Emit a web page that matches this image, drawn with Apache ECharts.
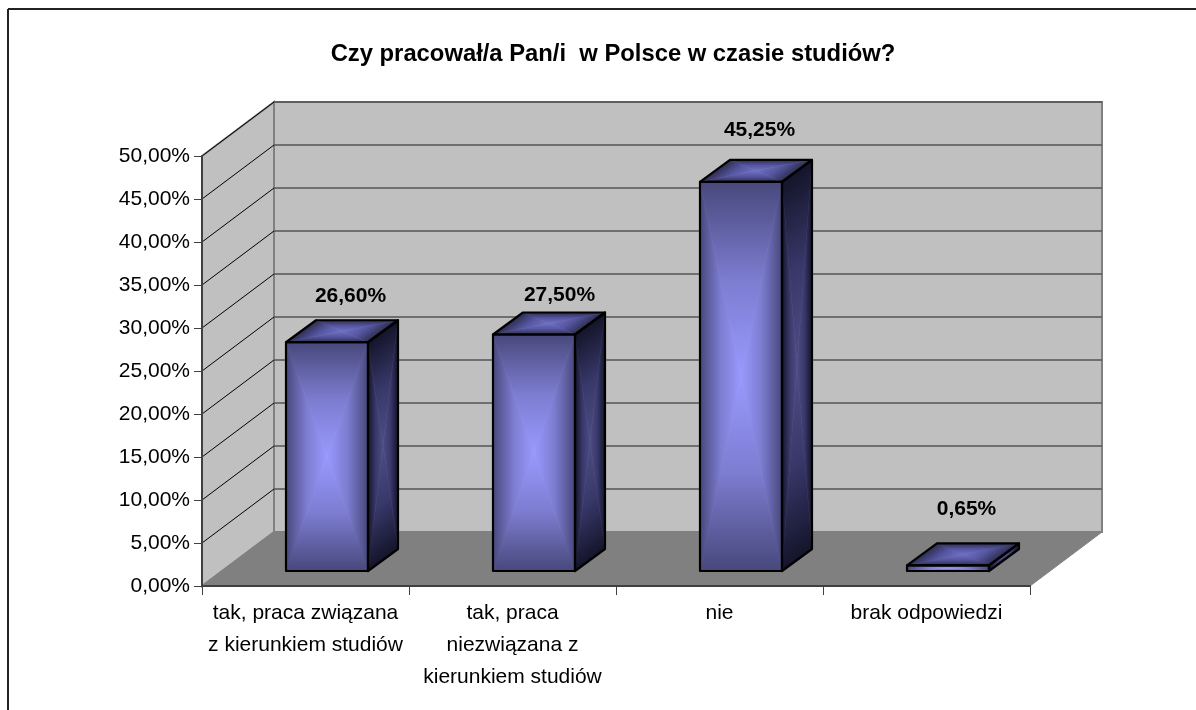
<!DOCTYPE html>
<html>
<head>
<meta charset="utf-8">
<title>Czy pracował/a Pan/i w Polsce w czasie studiów?</title>
<style>
  html, body { margin: 0; padding: 0; background: #fff; }
  #chart { width: 1196px; height: 710px; }
</style>
<script src="https://cdn.jsdelivr.net/npm/echarts@6/dist/echarts.min.js"></script>
</head>
<body>
<div id="chart"></div>
<script>
const categories = [
  "tak, praca związana\nz kierunkiem studiów",
  "tak, praca\nniezwiązana z\nkierunkiem studiów",
  "nie",
  "brak odpowiedzi",
];
const values = [26.6, 27.5, 45.25, 0.65];
const gridTicks = [0, 5, 10, 15, 20, 25, 30, 35, 40, 45, 50];
// hand placed labels in the original, so each one has its own shift [x, y]
const labelShift = [[45, -46], [47, -39], [40, -52], [40, -56]];

const WALL_DX = 72;
const WALL_DY = -54;
const BAR_W = 82;
const BAR_OFF_X = 21.5;
const BAR_OFF_Y = -15;
const SIDE_DX = 30;
const SIDE_DY = -22;

const fmt = (v) => v.toFixed(2).replace(".", ",") + "%";

function mid(a, b) {
  return [(a[0] + b[0]) / 2, (a[1] + b[1]) / 2];
}

// point on line a-b closest to c
function foot(a, b, c) {
  const dx = b[0] - a[0];
  const dy = b[1] - a[1];
  const t = ((c[0] - a[0]) * dx + (c[1] - a[1]) * dy) / (dx * dx + dy * dy);
  return [a[0] + t * dx, a[1] + t * dy];
}

// path gradient of a four sided face: one triangle per edge, all meeting in the middle
function face(p, stops) {
  const c = mid(p[0], p[2]);
  return p.map((a, i) => {
    const b = p[(i + 1) % 4];
    const f = foot(a, b, c);
    const g = new echarts.graphic.LinearGradient(f[0], f[1], c[0], c[1], [
      { offset: 0, color: stops[0] },
      { offset: 0.5, color: stops[1] },
      { offset: 1, color: stops[2] },
    ], true);
    return {
      type: "polygon",
      shape: { points: [a, b, c] },
      style: { fill: g, stroke: g, lineWidth: 0.6 },
    };
  });
}

function outline(p) {
  return {
    type: "polygon",
    shape: { points: p },
    style: { fill: "none", stroke: "#000", lineWidth: 2.2, lineJoin: "round" },
  };
}

function renderWalls(params, api) {
  const base = api.coord([0, 0]);
  const top = api.coord([0, 50]);
  const left = params.coordSys.x;
  const right = left + params.coordSys.width;
  const shift = (x, y) => [x + WALL_DX, y + WALL_DY];
  return {
    type: "group",
    children: [
      {
        type: "polygon",
        shape: { points: [[left, top[1]], shift(left, top[1]), shift(left, base[1]), [left, base[1]]] },
        style: { fill: "#c0c0c0", stroke: "#808080", lineWidth: 2 },
      },
      {
        type: "polygon",
        shape: { points: [shift(left, top[1]), shift(right, top[1]), shift(right, base[1]), shift(left, base[1])] },
        style: { fill: "#c0c0c0", stroke: "#808080", lineWidth: 2 },
      },
      {
        type: "polygon",
        shape: { points: [[left, base[1]], shift(left, base[1]), shift(right, base[1]), [right, base[1]]] },
        style: { fill: "#808080", stroke: "#808080", lineWidth: 1 },
      },
    ],
  };
}

function renderGridLine(params, api) {
  const y = api.coord([0, api.value(0)])[1];
  const left = params.coordSys.x;
  const right = left + params.coordSys.width;
  return {
    type: "group",
    children: [
      {
        type: "line",
        shape: { x1: left, y1: y, x2: left + WALL_DX, y2: y + WALL_DY },
        style: { stroke: "#000", lineWidth: 1 },
      },
      {
        type: "line",
        shape: { x1: left + WALL_DX, y1: y + WALL_DY, x2: right + WALL_DX, y2: y + WALL_DY },
        style: { stroke: "#555", lineWidth: 1.5 },
      },
    ],
  };
}

function renderBar(params, api) {
  const i = api.value(0);
  const v = api.value(1);
  const bottom = api.coord([i, 0]);
  const head = api.coord([i, v]);
  const x0 = bottom[0] + BAR_OFF_X - BAR_W / 2;
  const x1 = x0 + BAR_W;
  const y0 = bottom[1] + BAR_OFF_Y;
  const y1 = head[1] + BAR_OFF_Y;

  const front = [[x0, y1], [x1, y1], [x1, y0], [x0, y0]];
  const side = [[x1, y1], [x1 + SIDE_DX, y1 + SIDE_DY], [x1 + SIDE_DX, y0 + SIDE_DY], [x1, y0]];
  const cap = [[x0, y1], [x0 + SIDE_DX, y1 + SIDE_DY], [x1 + SIDE_DX, y1 + SIDE_DY], [x1, y1]];
  const shift = labelShift[i];

  return {
    type: "group",
    children: [
      ...face(front, ["#48487c", "#7c7cd0", "#9999ff"]),
      ...face(side, ["#14142a", "#38386a", "#4d4d85"]),
      ...face(cap, ["#2e2e50", "#5555a0", "#7070c4"]),
      outline(side),
      outline(cap),
      outline(front),
      {
        type: "text",
        style: {
          text: fmt(v),
          x: bottom[0] + shift[0],
          y: y1 + shift[1],
          align: "center",
          verticalAlign: "middle",
          font: "bold 21px 'Liberation Sans', Arial, sans-serif",
          fill: "#000",
        },
      },
    ],
  };
}

const myChart = echarts.init(document.getElementById("chart"), null, { renderer: "canvas" });
const fontFamily = "'Liberation Sans', Arial, sans-serif";

const option = {
  animation: false,
  backgroundColor: "#fff",
  title: {
    text: "Czy pracował/a Pan/i  w Polsce w czasie studiów?",
    left: 608,
    top: 37,
    textAlign: "center",
    textStyle: { fontFamily, fontSize: 23.8, fontWeight: "bold", color: "#000" },
  },
  graphic: [
    { type: "line", shape: { x1: 8, y1: 9, x2: 1196, y2: 9 }, style: { stroke: "#222", lineWidth: 2 } },
    { type: "line", shape: { x1: 8, y1: 9, x2: 8, y2: 710 }, style: { stroke: "#222", lineWidth: 2 } },
  ],
  grid: { left: 202, right: 166, top: 156, bottom: 124 },
  xAxis: {
    type: "category",
    data: categories,
    z: 6,
    axisLine: { lineStyle: { color: "#404040", width: 2 } },
    axisTick: { show: true, alignWithLabel: false, length: 9, lineStyle: { color: "#404040", width: 1 } },
    axisLabel: { interval: 0, fontFamily, fontSize: 21, color: "#000", lineHeight: 32, margin: 11 },
  },
  yAxis: {
    type: "value",
    min: 0,
    max: 50,
    interval: 5,
    z: 6,
    splitLine: { show: false },
    axisLine: { show: true, lineStyle: { color: "#404040", width: 2 } },
    axisTick: { show: true, length: 8, lineStyle: { color: "#404040", width: 1 } },
    axisLabel: { fontFamily, fontSize: 21, color: "#000", margin: 12, formatter: fmt },
  },
  series: [
    {
      type: "custom",
      data: [[0]],
      z: 1,
      clip: false,
      silent: true,
      renderItem: renderWalls,
    },
    {
      type: "custom",
      data: gridTicks.slice(1).map((t) => [t]),
      z: 2,
      clip: false,
      silent: true,
      encode: { y: 0 },
      renderItem: renderGridLine,
    },
    {
      type: "custom",
      data: values.map((v, i) => [i, v]),
      z: 3,
      clip: false,
      encode: { x: 0, y: 1 },
      renderItem: renderBar,
    },
  ],
};
myChart.setOption(option);

window.addEventListener("resize", function () {
  myChart.resize();
});
</script>
</body>
</html>
